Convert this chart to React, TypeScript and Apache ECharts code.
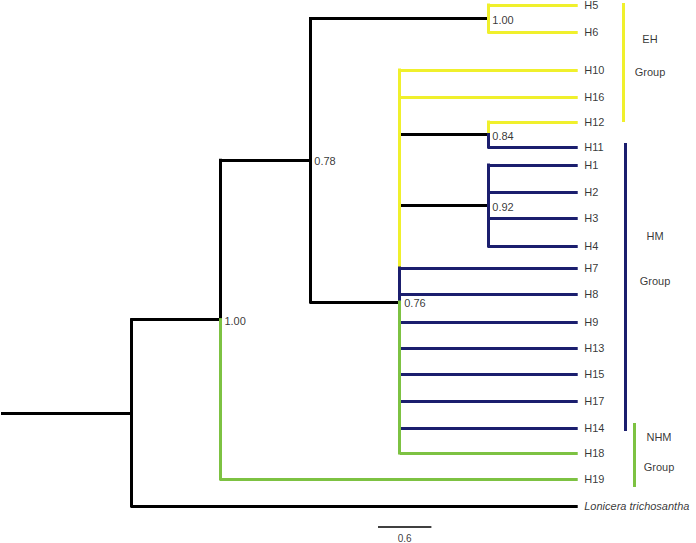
import { useEffect, useRef } from "react";
import * as echarts from "echarts";

// ---------- data ----------
const tipNames = ["H5", "H6", "H10", "H16", "H12", "H11", "H1", "H2", "H3", "H4", "H7", "H8", "H9", "H13", "H15", "H17", "H14", "H18", "H19", "Lonicera trichosantha"];
const tipParents = ["D", "D", "P", "P", "E", "E", "F", "F", "F", "F", "P", "P", "P", "P", "P", "P", "P", "P", "B", "A"];
const tipColors = ["yellow", "yellow", "yellow", "yellow", "yellow", "navy", "navy", "navy", "navy", "navy", "navy", "navy", "navy", "navy", "navy", "navy", "navy", "green", "green", "black"];
const tipRows = [5, 32, 70, 97, 122, 147, 165, 192, 218, 246, 268, 294, 322, 348, 374, 401, 428, 453, 479, 506];
const tipDepth = 6.48;

const nodeIds = ["A", "B", "C", "D", "P", "E", "F"];
const nodeParents = ["root", "A", "B", "C", "C", "P", "P"];
const nodeDepths = [1.46, 2.46, 3.47, 5.47, 4.48, 5.47, 5.47];
const nodeSupports = ["", "1.00", "0.78", "1.00", "0.76", "0.84", "0.92"];
const nodeRowOverrides: (number | null)[] = [null, null, null, null, 302, null, null];

// vertical connector pieces at each node: from child (or "node" itself) to child, coloured
const vertNodes = ["A", "B", "B", "C", "D", "P", "P", "P", "E", "E", "F"];
const vertFrom = ["B", "C", "node", "D", "H5", "H10", "H7", "node", "H12", "node", "H1"];
const vertTo = ["Lonicera trichosantha", "node", "H19", "P", "H6", "H7", "node", "H18", "node", "H11", "H4"];
const vertColors = ["black", "black", "green", "black", "yellow", "yellow", "navy", "green", "yellow", "navy", "navy"];

const groupNames = ["EH", "HM", "NHM"];
const groupFirst = ["H5", "H11", "H14"];
const groupLast = ["H12", "H14", "H19"];
const groupColors = ["yellow", "navy", "green"];

const scaleBarValue = 0.6;

// ---------- style / layout ----------
const COLORS: Record<string, string> = {
  black: "#000000",
  yellow: "#F0F02C",
  navy: "#1B1E6E",
  green: "#7DC242",
};
const FONT = "'Liberation Sans', Arial, sans-serif";
const PX_PER_UNIT = 89;
const X0 = 1;
const px2x = (px: number) => (px - X0) / PX_PER_UNIT;
const groupBarPx = [623, 625, 634];
const groupPadTop = [-2, -4, -5];
const groupPadBottom = [0, 3, 8];
const groupLabelPx = [
  [650, 39, 72],
  [655, 236, 281],
  [659, 437, 467],
];
const scaleBarLeftPx = 378;
const scaleBarY = 527;
const scaleLabelY = 538;

function labelScatter(data: any[], label: any, z = 4) {
  return {
    type: "scatter",
    symbol: "circle",
    symbolSize: 1,
    itemStyle: { color: "rgba(0,0,0,0)" },
    silent: true,
    data,
    label: {
      show: true,
      formatter: (p: any) => p.name,
      color: "#000000",
      fontSize: 11,
      fontFamily: FONT,
      ...label,
    },
    z,
  };
}

function buildOption() {
  const pos: Record<string, { x: number; y: number }> = {};
  tipNames.forEach((n, i) => (pos[n] = { x: tipDepth, y: tipRows[i] }));
  const computeNode = (id: string): { x: number; y: number } => {
    if (pos[id]) return pos[id];
    const idx = nodeIds.indexOf(id);
    const childYs: number[] = [];
    tipNames.forEach((n, i) => {
      if (tipParents[i] === id) childYs.push(pos[n].y);
    });
    nodeIds.forEach((n, i) => {
      if (nodeParents[i] === id) childYs.push(computeNode(n).y);
    });
    const ov = nodeRowOverrides[idx];
    const y = ov != null ? ov : (Math.min(...childYs) + Math.max(...childYs)) / 2;
    pos[id] = { x: nodeDepths[idx], y };
    return pos[id];
  };
  nodeIds.forEach((n) => computeNode(n));
  pos["root"] = { x: 0, y: pos["A"].y };

  const vSegs: any[] = [];
  vertNodes.forEach((n, i) => {
    const p = pos[n];
    const a = vertFrom[i] === "node" ? p.y : pos[vertFrom[i]].y;
    const b = vertTo[i] === "node" ? p.y : pos[vertTo[i]].y;
    vSegs.push({ coords: [[p.x, a], [p.x, b]], lineStyle: { color: COLORS[vertColors[i]] } });
  });
  const hSegs: any[] = [];
  nodeIds.forEach((n, i) => {
    const par = pos[nodeParents[i]];
    const p = pos[n];
    hSegs.push({ coords: [[par.x, p.y], [p.x, p.y]], lineStyle: { color: COLORS.black } });
  });
  tipNames.forEach((n, i) => {
    const par = pos[tipParents[i]];
    const p = pos[n];
    hSegs.push({ coords: [[par.x, p.y], [p.x, p.y]], lineStyle: { color: COLORS[tipColors[i]] } });
  });

  const groupBars = groupNames.map((g, i) => ({
    coords: [
      [px2x(groupBarPx[i]), pos[groupFirst[i]].y + groupPadTop[i]],
      [px2x(groupBarPx[i]), pos[groupLast[i]].y + groupPadBottom[i]],
    ],
    lineStyle: { color: COLORS[groupColors[i]] },
  }));

  const scaleLeft = px2x(scaleBarLeftPx);
  const scaleBar = [
    { coords: [[scaleLeft, scaleBarY], [scaleLeft + scaleBarValue, scaleBarY]], lineStyle: { color: "#000" } },
  ];

  const tipLabelData = tipNames.map((n, i) => ({
    value: [tipDepth, tipRows[i]],
    name: n,
    label: i === tipNames.length - 1 ? { fontStyle: "italic" } : {},
  }));

  const supportData = nodeIds
    .map((n, i) => ({ value: [pos[n].x, pos[n].y], name: nodeSupports[i] }))
    .filter((d) => d.name !== "");

  const groupLabelData: any[] = [];
  groupNames.forEach((g, i) => {
    groupLabelData.push({ value: [px2x(groupLabelPx[i][0]), groupLabelPx[i][1]], name: g });
    groupLabelData.push({ value: [px2x(groupLabelPx[i][0]), groupLabelPx[i][2]], name: "Group" });
  });

  const linesBase = { type: "lines", coordinateSystem: "cartesian2d", polyline: false, silent: true };

  return {
    animation: false,
    grid: { left: 0, right: 0, top: 0, bottom: 0 },
    xAxis: { type: "value", min: px2x(0), max: px2x(696), show: false },
    yAxis: { type: "value", min: 0, max: 543, inverse: true, show: false },
    series: [
      { ...linesBase, lineStyle: { width: 3, opacity: 1, cap: "butt" }, data: hSegs, z: 3 },
      { ...linesBase, lineStyle: { width: 3, opacity: 1, cap: "square" }, data: vSegs, z: 3 },
      { ...linesBase, lineStyle: { width: 3, opacity: 1, cap: "butt" }, data: groupBars, z: 2 },
      { ...linesBase, lineStyle: { width: 1.5, opacity: 1, cap: "butt" }, data: scaleBar, z: 2 },
      labelScatter(tipLabelData, { position: "right", distance: 6 }),
      labelScatter(supportData, { position: "right", distance: 4, offset: [0, 1] }),
      labelScatter(groupLabelData, { position: "inside" }),
      labelScatter(
        [{ value: [scaleLeft + scaleBarValue / 2, scaleLabelY], name: String(scaleBarValue) }],
        { position: "inside", fontSize: 10 }
      ),
    ],
  };
}

export default function App() {
  const ref = useRef<HTMLDivElement>(null);
  useEffect(() => {
    if (!ref.current) return;
    const chart = echarts.init(ref.current, null, { renderer: "svg" });
    chart.setOption(buildOption() as any);
    return () => chart.dispose();
  }, []);
  return (
    <div
      ref={ref}
      style={{ position: "fixed", left: 0, top: 0, width: 696, height: 543, background: "#fff" }}
    />
  );
}
